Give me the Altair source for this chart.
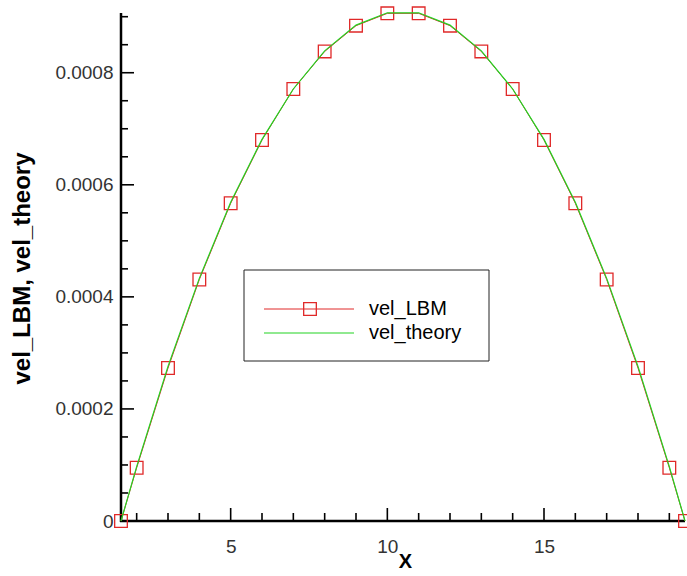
import altair as alt
import pandas as pd

# ---- data ----
x_pos = [1.5, 2, 3, 4, 5, 6, 7, 8, 9, 10, 11, 12, 13, 14, 15, 16, 17, 18, 19, 19.5]
vel_lbm = [0.0, 0.000095, 0.000273, 0.000431, 0.000567, 0.000680, 0.000771, 0.000838,
           0.000884, 0.000906, 0.000906, 0.000884, 0.000838, 0.000771, 0.000680,
           0.000567, 0.000431, 0.000273, 0.000095, 0.0]
vel_theory = [0.0, 0.000097, 0.000276, 0.000433, 0.000569, 0.000681, 0.000771, 0.000839,
              0.000885, 0.000907, 0.000907, 0.000885, 0.000839, 0.000771, 0.000681,
              0.000569, 0.000433, 0.000276, 0.000097, 0.0]

x_major = [5, 10, 15]
x_minor = [2, 3, 4, 6, 7, 8, 9, 11, 12, 13, 14, 16, 17, 18, 19]
y_major = [0.0, 0.0002, 0.0004, 0.0006, 0.0008]
y_minor = [0.00005, 0.0001, 0.00015, 0.00025, 0.0003, 0.00035, 0.00045, 0.0005,
           0.00055, 0.00065, 0.0007, 0.00075, 0.00085, 0.0009]
series_names = ["vel_LBM", "vel_theory"]

W, H = 564, 508
RED = "#e02828"
GREEN = "#22d422"
FONT = "Liberation Sans"

df = pd.DataFrame({"x": x_pos, "lbm": vel_lbm, "theory": vel_theory})

xs = alt.Scale(domain=[1.5, 19.5], nice=False, zero=False)
ys = alt.Scale(domain=[0, 0.0009066], nice=False, zero=False)

x_axis = alt.Axis(values=x_major, format="d", ticks=False, grid=False, domain=False,
                  labelFont=FONT, labelFontSize=19,
                  labelColor="#333333", labelPadding=16, title="X", titleFont=FONT,
                  titleFontSize=20, titleFontWeight="bold", titleColor="black",
                  titleBaseline="alphabetic", titleAlign="center", titleX=284, titleY=46)
y_axis = alt.Axis(values=y_major, format=".4~f", ticks=False, grid=False, domain=False,
                  labelFont=FONT, labelFontSize=19,
                  labelColor="#333333", labelPadding=8, title="vel_LBM, vel_theory",
                  titleFont=FONT, titleFontSize=24, titleFontWeight="bold",
                  titleColor="black", titleAngle=270, titleBaseline="alphabetic",
                  titleAlign="center", titleX=-92, titleY=255)

base = alt.Chart(df)

lbm_line = base.mark_line(color=RED, strokeWidth=1).encode(
    x=alt.X("x:Q", scale=xs, axis=x_axis),
    y=alt.Y("lbm:Q", scale=ys, axis=y_axis),
)
lbm_pts = base.mark_point(shape="square", filled=False, color=RED, size=160,
                          strokeWidth=1.3, opacity=1).encode(
    x=alt.X("x:Q", scale=xs, axis=x_axis),
    y=alt.Y("lbm:Q", scale=ys, axis=y_axis),
)
theory_line = base.mark_line(color=GREEN, strokeWidth=1.2).encode(
    x=alt.X("x:Q", scale=xs, axis=x_axis),
    y=alt.Y("theory:Q", scale=ys, axis=y_axis),
)

def xticks(vals, length):
    return alt.Chart(pd.DataFrame({"t": vals})).mark_rule(color="black", strokeWidth=1.6).encode(
        x=alt.X("t:Q", scale=xs, axis=x_axis),
        y=alt.value(H), y2=alt.value(H - length))

def yticks(vals, length):
    return alt.Chart(pd.DataFrame({"t": vals})).mark_rule(color="black", strokeWidth=1.6).encode(
        y=alt.Y("t:Q", scale=ys, axis=y_axis),
        x=alt.value(0), x2=alt.value(length))

one = alt.Data(values=[{"a": 1}])

# axis lines
x_line = alt.Chart(one).mark_rule(color="black", strokeWidth=2.5).encode(
    x=alt.value(-1), x2=alt.value(W), y=alt.value(H))
y_line = alt.Chart(one).mark_rule(color="black", strokeWidth=2.5).encode(
    x=alt.value(0), y=alt.value(0), y2=alt.value(H + 1))

# legend (drawn by hand to reproduce the boxed legend)
leg_box = alt.Chart(one).mark_rect(fill="white", stroke="#222222", strokeWidth=1).encode(
    x=alt.value(123), x2=alt.value(368), y=alt.value(257), y2=alt.value(348))
leg_red = alt.Chart(one).mark_rule(color=RED, strokeWidth=1).encode(
    x=alt.value(143), x2=alt.value(233), y=alt.value(296))
leg_sq = alt.Chart(one).mark_point(shape="square", filled=False, color=RED, size=160,
                                   strokeWidth=1.3, opacity=1).encode(
    x=alt.value(189), y=alt.value(296))
leg_green = alt.Chart(one).mark_rule(color=GREEN, strokeWidth=1.2).encode(
    x=alt.value(143), x2=alt.value(233), y=alt.value(320))
leg_t1 = alt.Chart(one).mark_text(align="left", baseline="middle", font=FONT, fontSize=20,
                                  color="black").encode(
    x=alt.value(248), y=alt.value(296), text=alt.value(series_names[0]))
leg_t2 = alt.Chart(one).mark_text(align="left", baseline="middle", font=FONT, fontSize=20,
                                  color="black").encode(
    x=alt.value(248), y=alt.value(320), text=alt.value(series_names[1]))

chart = alt.layer(
    x_line, y_line,
    xticks(x_major, 13), xticks(x_minor, 8),
    yticks(y_major[1:], 13), yticks(y_minor, 7),
    lbm_line, lbm_pts, theory_line,
    leg_box, leg_red, leg_sq, leg_green, leg_t1, leg_t2,
).properties(
    width=W, height=H,
    autosize=alt.AutoSizeParams(type="none"),
    padding={"left": 121, "top": 13, "right": 2, "bottom": 55},
    background="white",
).configure_view(stroke=None)

chart.save("out.html", embed_options={"renderer": "svg", "actions": False})
